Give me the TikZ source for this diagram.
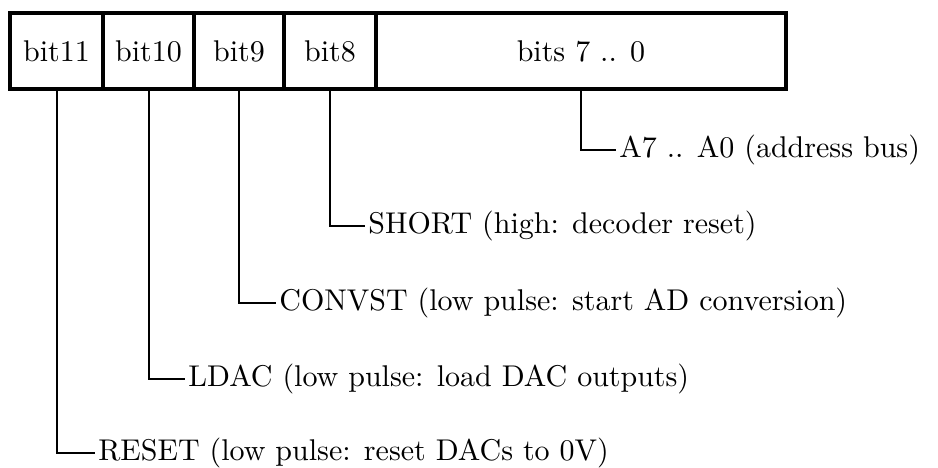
\documentclass[tikz,border=0pt]{standalone}
\newcommand{\txt}[1]{\scalebox{1.5}{\fontsize{10}{12}\selectfont #1}}
\begin{document}
\begin{tikzpicture}[x=0.5pt,y=-0.5pt,
  cell/.style={draw,line width=2pt,inner sep=0pt,minimum height=38pt},
  lbl/.style={anchor=base west,inner sep=1.5pt},
  wire/.style={line width=1pt}]
\useasboundingbox (0,0) rectangle (938,467);
\node[cell,minimum width=46.5pt] (c11) at (56.5,51) {\txt{bit11}};
\node[cell,minimum width=45.5pt] (c10) at (148.5,51) {\txt{bit10}};
\node[cell,minimum width=45pt] (c9) at (239,51) {\txt{bit9}};
\node[cell,minimum width=46pt] (c8) at (330,51) {\txt{bit8}};
\node[cell,minimum width=205pt] (c7) at (581,51) {\txt{bits 7 .. 0}};
\node[lbl] (l7) at (616,157) {\txt{A7 .. A0 (address bus)}};
\node[lbl] (l8) at (365,233) {\txt{SHORT (high: decoder reset)}};
\node[lbl] (l9) at (276,310) {\txt{CONVST (low pulse: start AD conversion)}};
\node[lbl] (l10) at (185,386) {\txt{LDAC (low pulse: load DAC outputs)}};
\node[lbl] (l11) at (95,460) {\txt{RESET (low pulse: reset DACs to 0V)}};
\draw[wire] (c7.south) |- ([yshift=3.75pt]l7.base west);
\draw[wire] (c8.south) |- ([yshift=3.75pt]l8.base west);
\draw[wire] (c9.south) |- ([yshift=3.75pt]l9.base west);
\draw[wire] (c10.south) |- ([yshift=3.75pt]l10.base west);
\draw[wire] (c11.south) |- ([yshift=3.75pt]l11.base west);
\end{tikzpicture}
\end{document}
